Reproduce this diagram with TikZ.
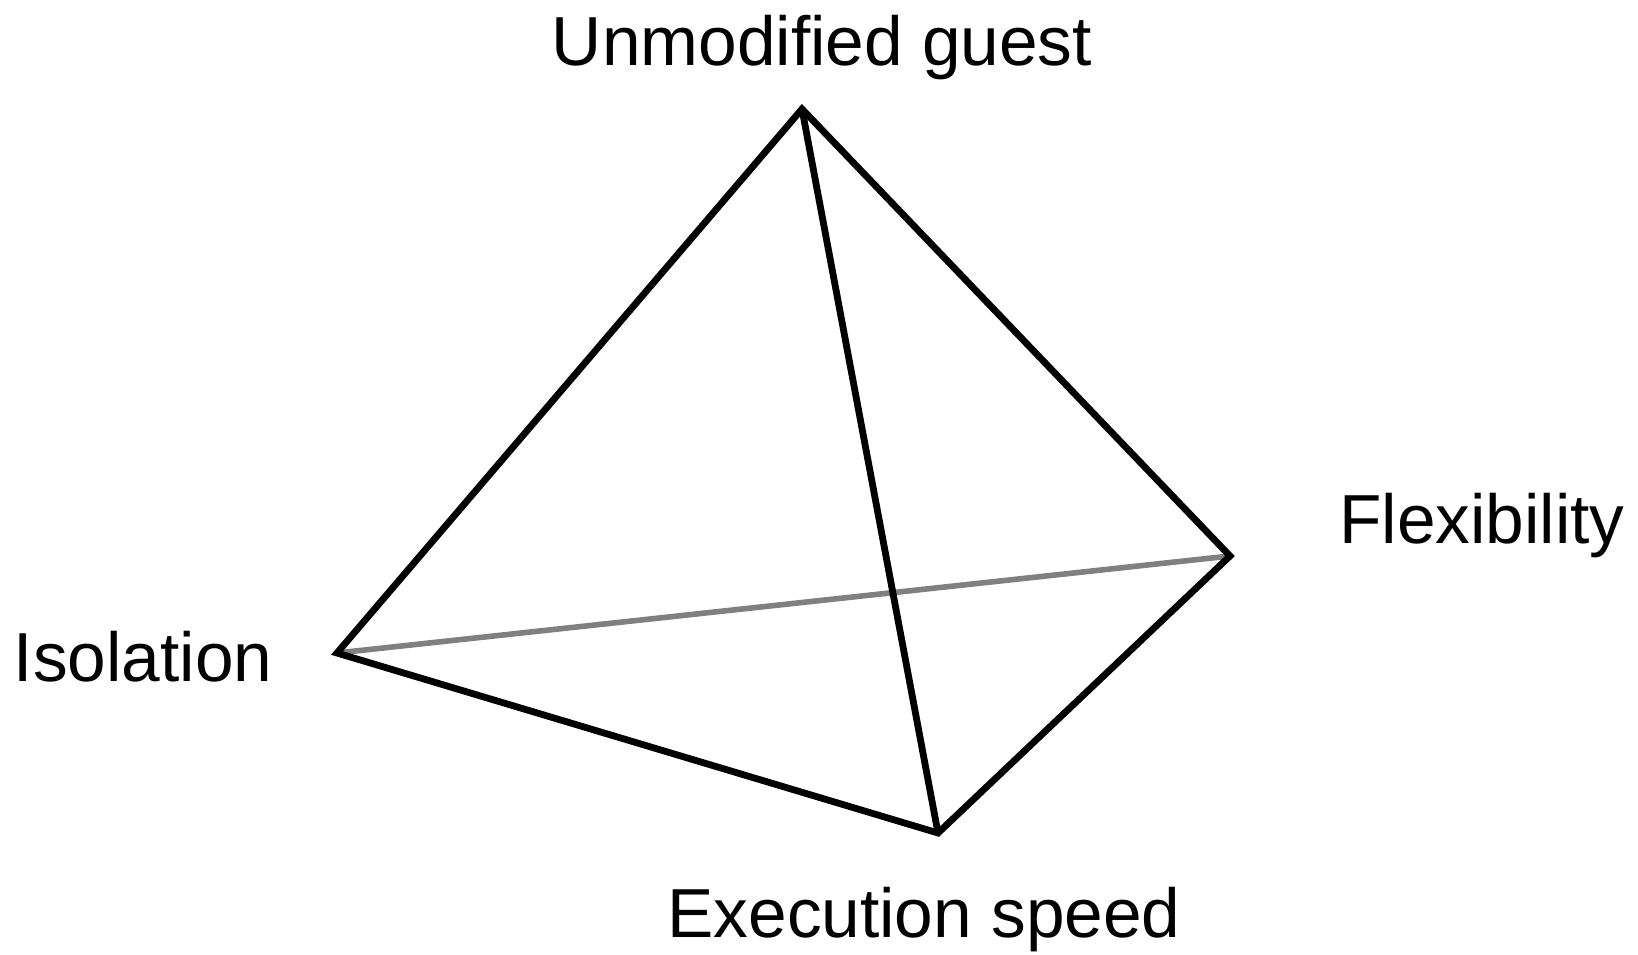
\documentclass[tikz,border=0pt]{standalone}
\usepackage{fontspec}
\setmainfont{Liberation Sans}
\usetikzlibrary{positioning}

\tikzset{
  edge/.style={black, line width=3.4pt, line join=miter},
  hidden/.style={gray, line width=2.8pt},
  label/.style={anchor=base, inner sep=0pt, font=\fontsize{34.7}{41}\selectfont}
}

\begin{document}
\begin{tikzpicture}[x=0.5pt, y=-0.5pt]
  \useasboundingbox (0,0) rectangle (1638,954);

  % Corners
  \coordinate (guest) at (802,109);
  \coordinate (iso) at (337,653);
  \coordinate (flex) at (1230,556);
  \coordinate (speed) at (938,833);

  % Back edge
  \draw[hidden] (iso) -- (flex);

  % Front edges
  \draw[edge] (guest) -- (iso) -- (speed) -- (flex) -- cycle;
  \draw[edge] (guest) -- (speed);

  % Labels
  \node[label] (lguest) at (822,65) {Unmodified guest};
  \node[label] (liso) at (143,681) {Isolation};
  \node[label] (lflex) at (1482,543) {Flexibility};
  \node[label] (lspeed) at (924,937) {Execution speed};
\end{tikzpicture}
\end{document}
